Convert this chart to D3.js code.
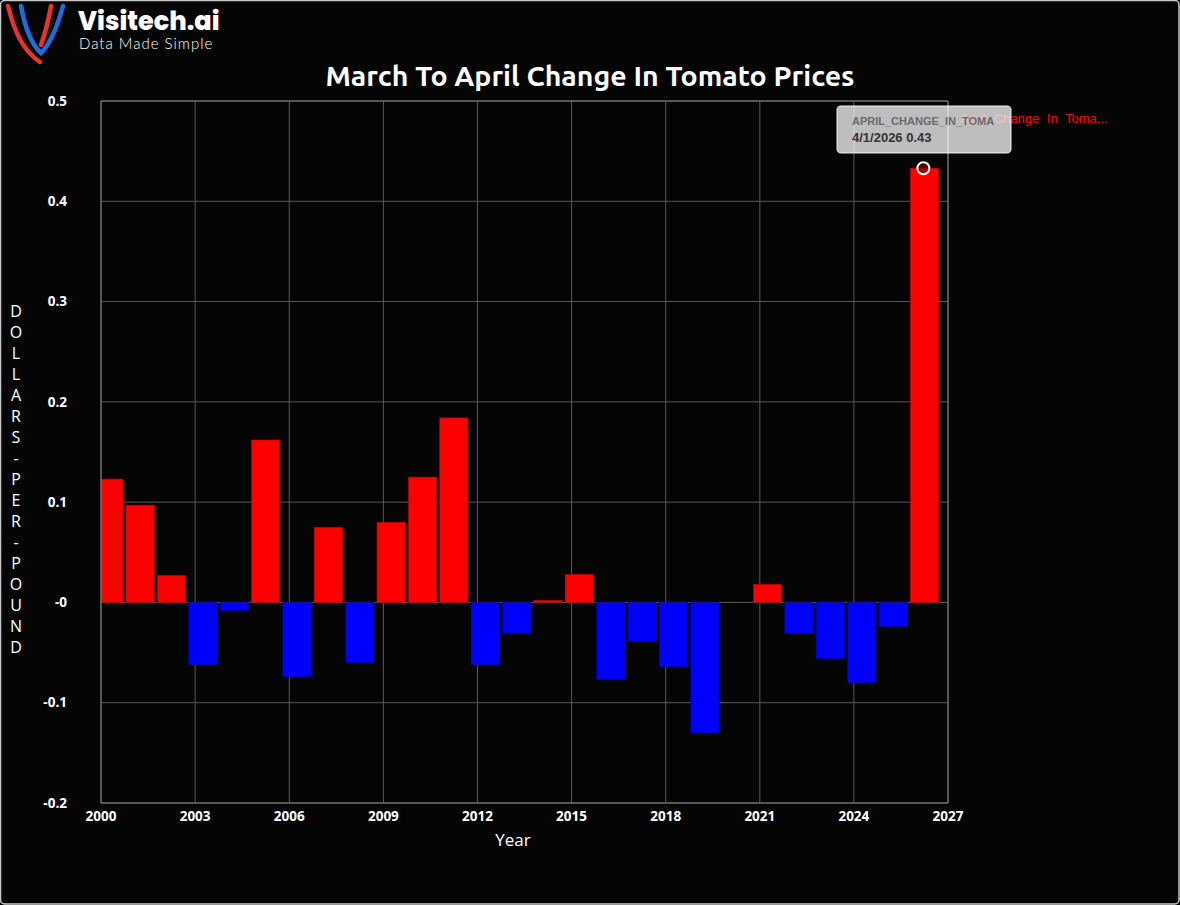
<!DOCTYPE html>
<html>
<head>
<meta charset="utf-8">
<script src="https://cdn.jsdelivr.net/npm/d3@7"></script>
<style>
html,body{margin:0;padding:0;background:#000;}
svg{display:block;}
</style>
</head>
<body>
<svg id="chart" width="1180" height="905"></svg>
<script>
// ---- data ----
const years = [2000,2001,2002,2003,2004,2005,2006,2007,2008,2009,2010,2011,2012,2013,2014,2015,2016,2017,2018,2019,2020,2021,2022,2023,2024,2025,2026];
const changes = [0.123,0.097,0.027,-0.062,-0.008,0.162,-0.074,0.075,-0.060,0.080,0.125,0.184,-0.062,-0.031,0.002,0.028,-0.077,-0.039,-0.064,-0.130,0,0.018,-0.031,-0.056,-0.080,-0.024,0.433];
const yTickValues = [0.5,0.4,0.3,0.2,0.1,0,-0.1,-0.2];
const yTickLabels = ["0.5","0.4","0.3","0.2","0.1","-0","-0.1","-0.2"];
const xTickYears = [2000,2003,2006,2009,2012,2015,2018,2021,2024,2027];
const titleText = "March To April Change In Tomato Prices";
const yAxisTitle = "DOLLARS-PER-POUND";
const xAxisTitle = "Year";
const seriesName = "April  Change  In  Toma...";
const tooltipKey = "APRIL_CHANGE_IN_TOMA";
const tooltipIndex = 26;

const svg = d3.select("#chart");
const W = 1180, H = 905;
const m = {left:101, right:948, top:101, bottom:803};

svg.append("rect").attr("x",0).attr("y",0).attr("width",W).attr("height",H).attr("fill","#000");
svg.append("rect").attr("x",0.5).attr("y",0.5).attr("width",W-1.5).attr("height",H-1.5)
  .attr("rx",4).attr("fill","#050505").attr("stroke","#c8c8c8").attr("stroke-width",1.5);

// ---- logo ----
const logo = svg.append("g");
logo.append("path").attr("d","M8,6 C14,30 22,50 40,62").attr("fill","none").attr("stroke","#e8322b").attr("stroke-width",4.5).attr("stroke-linecap","round");
logo.append("path").attr("d","M51,6 C48,22 45,34 41,45").attr("fill","none").attr("stroke","#e8322b").attr("stroke-width",4.5).attr("stroke-linecap","round");
logo.append("path").attr("d","M21,6 C25,28 31,44 41,53 C50,44 57,28 63,6").attr("fill","none").attr("stroke","#1a6fe0").attr("stroke-width",4.5).attr("stroke-linecap","round");
logo.append("text").attr("x",78).attr("y",30).text("Visitech.ai")
  .attr("fill","#fff").attr("font-family","Poppins, 'Open Sans', sans-serif").attr("font-weight",800).attr("font-size",25.5);
logo.append("text").attr("x",79).attr("y",48.5).text("Data Made Simple")
  .attr("fill","#fff").attr("font-family","Lato, 'Open Sans', sans-serif").attr("font-weight",300).attr("font-size",15)
  .attr("letter-spacing",1);

// ---- title ----
svg.append("text").attr("x",590).attr("y",86).attr("text-anchor","middle").text(titleText)
  .attr("fill","#fff").attr("font-family","Ubuntu, 'Open Sans', sans-serif").attr("font-weight",700).attr("font-size",28.5);

// ---- scales ----
const parse = d3.timeParse("%m/%d/%Y");
const x = d3.scaleTime().domain([new Date(2000,0,1), new Date(2027,0,1)]).range([m.left, m.right]);
const y = d3.scaleLinear().domain([-0.2,0.5]).range([m.bottom, m.top]);

const data = years.map((yr,i)=>({date:parse(`4/1/${yr}`), year:yr, value:changes[i]}));

// grid
const grid = svg.append("g");
grid.selectAll(".hg").data(yTickValues).join("line")
  .attr("x1",m.left).attr("x2",m.right).attr("y1",d=>y(d)).attr("y2",d=>y(d))
  .attr("stroke","#5a5a5a").attr("stroke-width",1);
grid.selectAll(".vg").data(xTickYears).join("line")
  .attr("x1",d=>x(new Date(d,0,1))).attr("x2",d=>x(new Date(d,0,1)))
  .attr("y1",m.top).attr("y2",m.bottom)
  .attr("stroke","#5a5a5a").attr("stroke-width",1);

// clip
svg.append("clipPath").attr("id","plotclip").append("rect")
  .attr("x",m.left).attr("y",m.top).attr("width",m.right-m.left).attr("height",m.bottom-m.top);

const bw = (x(new Date(2001,0,1)) - x(new Date(2000,0,1))) * 0.9;
svg.append("g").attr("clip-path","url(#plotclip)")
  .selectAll("rect").data(data.filter(d=>d.value!==0)).join("rect")
  .attr("x",d=>x(d.date)-bw/2)
  .attr("width",bw)
  .attr("y",d=>y(Math.max(0,d.value)))
  .attr("height",d=>Math.abs(y(d.value)-y(0)))
  .attr("fill",d=>d.value>=0?"#ff0000":"#0000ff")
  .attr("stroke",d=>d.value>=0?"#b00000":"#0000b0").attr("stroke-width",0.6);

// axes frame lines
svg.append("line").attr("x1",m.left).attr("x2",m.left).attr("y1",m.top).attr("y2",m.bottom).attr("stroke","#808080");
svg.append("line").attr("x1",m.left).attr("x2",m.right).attr("y1",m.bottom).attr("y2",m.bottom).attr("stroke","#808080");
svg.append("line").attr("x1",m.right).attr("x2",m.right).attr("y1",m.top).attr("y2",m.bottom).attr("stroke","#808080");
svg.append("line").attr("x1",m.left).attr("x2",m.right).attr("y1",m.top).attr("y2",m.top).attr("stroke","#808080");

// y tick labels
svg.append("g").selectAll("text").data(yTickValues).join("text")
  .attr("x",67).attr("y",d=>y(d)).attr("dy","0.35em").attr("text-anchor","end")
  .text((d,i)=>yTickLabels[i])
  .attr("fill","#fff").attr("font-family","'Open Sans', sans-serif").attr("font-weight",700).attr("font-size",13.5);

// x tick labels
const fmt = d3.timeFormat("%Y");
svg.append("g").selectAll("text").data(xTickYears).join("text")
  .attr("x",d=>x(new Date(d,0,1))).attr("y",821).attr("text-anchor","middle")
  .text(d=>fmt(new Date(d,0,1)))
  .attr("fill","#fff").attr("font-family","'Open Sans', sans-serif").attr("font-weight",700).attr("font-size",13.5);

// axis titles
svg.append("text").attr("x",513).attr("y",846).attr("text-anchor","middle").text(xAxisTitle)
  .attr("fill","#fff").attr("font-family","'Open Sans', sans-serif").attr("font-size",17);
svg.append("g").selectAll("text").data(yAxisTitle.split("")).join("text")
  .attr("x",16).attr("y",(d,i)=>311+i*21).attr("dy","0.35em").attr("text-anchor","middle")
  .text(d=>d)
  .attr("fill","#fff").attr("font-family","'Open Sans', sans-serif").attr("font-size",16);

// legend
svg.append("text").attr("x",960).attr("y",123).text(seriesName)
  .attr("fill","#ff0000").attr("font-family","'Liberation Sans', Arial, sans-serif").attr("font-size",13)
  .attr("word-spacing",4);

// hover marker + tooltip
const td = data[tooltipIndex];
svg.append("circle").attr("cx",x(td.date)-1).attr("cy",y(td.value)).attr("r",6)
  .attr("fill","rgba(120,0,0,0.6)").attr("stroke","#fff").attr("stroke-width",2);
const tt = svg.append("g");
tt.append("rect").attr("x",837).attr("y",106).attr("width",174).attr("height",47).attr("rx",4)
  .attr("fill","rgba(255,255,255,0.74)").attr("stroke","rgba(255,255,255,0.6)").attr("stroke-width",1.5);
tt.append("text").attr("x",852).attr("y",125).text(tooltipKey)
  .attr("fill","#6a6a6a").attr("font-family","'Liberation Sans', Arial, sans-serif").attr("font-weight",700).attr("font-size",11);
tt.append("text").attr("x",852).attr("y",142).text(`${d3.timeFormat("%-m/%-d/%Y")(td.date)} ${td.value.toFixed(2)}`)
  .attr("fill","#333").attr("font-family","'Liberation Sans', Arial, sans-serif").attr("font-weight",700).attr("font-size",13);
</script>
</body>
</html>
